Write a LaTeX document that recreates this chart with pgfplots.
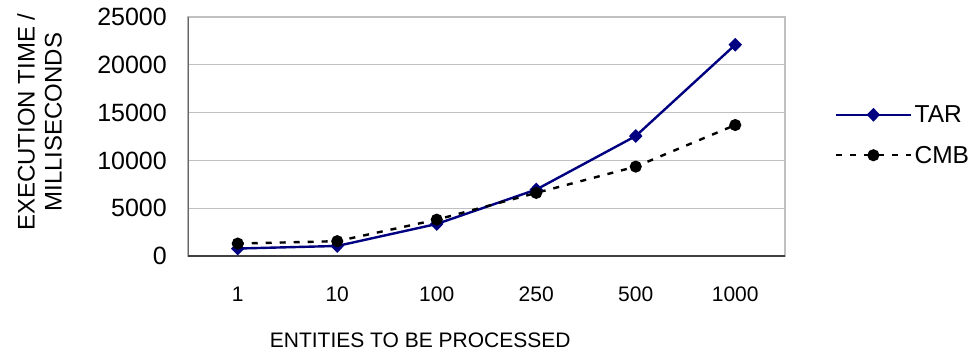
\documentclass[border=0pt]{standalone}
\usepackage{fontspec}
\setmainfont{Liberation Sans}
\usepackage{pgfplots}
\pgfplotsset{compat=1.18}
\definecolor{tarblue}{RGB}{0,0,128}
\definecolor{gridgray}{RGB}{192,192,192}
\begin{document}
\begin{tikzpicture}
\useasboundingbox (-188pt,-103pt) rectangle (791pt,256pt);
\begin{axis}[
  scale only axis,
  width=597pt, height=239pt,
  at={(0,0)}, anchor=south west,
  xmin=-0.5, xmax=5.5,
  ymin=0, ymax=25000,
  xtick={0,1,2,3,4,5},
  xticklabels={1,10,100,250,500,1000},
  ytick={0,5000,10000,15000,20000,25000},
  yticklabels={0,5000,10000,15000,20000,25000},
  scaled y ticks=false,
  major tick length=0pt,
  ymajorgrids,
  grid style={draw=gridgray, line width=1.3pt},
  axis line style={draw=gridgray, line width=1.3pt},
  yticklabel style={font=\fontsize{25}{29}\selectfont, inner sep=0pt, anchor=east, xshift=-21pt},
  xticklabel style={font=\fontsize{21}{25}\selectfont, inner sep=0pt, anchor=north, yshift=-31pt},
  xlabel={ENTITIES TO BE PROCESSED},
  xlabel style={font=\fontsize{21}{25}\selectfont, at={(axis description cs:0.389,0)}, anchor=north, inner sep=0pt, yshift=-77pt},
  ylabel={EXECUTION TIME /\\MILLISECONDS},
  ylabel style={font=\fontsize{24}{27}\selectfont, align=center, at={(axis description cs:0,0.56)}, anchor=south, inner sep=0pt, yshift=126pt},
  legend cell align=left,
  legend style={draw=none, fill=none, at={(axis description cs:1,0.506)}, anchor=west, xshift=50pt,
    font=\fontsize{24.5}{28}\selectfont, row sep=18pt, inner sep=0pt,
    /tikz/every even column/.append style={column sep=9pt}},
  legend image code/.code={
    \draw[mark repeat=2,mark phase=2,#1] plot coordinates {(0pt,0pt) (37pt,0pt) (75pt,0pt)};
  },
]
\addplot[tarblue, line width=2.4pt, mark=diamond*, mark size=5.2pt, mark options={solid, fill=tarblue, xscale=1.3}]
  coordinates {(0,780) (1,1050) (2,3350) (3,6950) (4,12550) (5,22100)};
\addlegendentry{TAR}
\addplot[black, line width=2.4pt, dash pattern=on 6pt off 8pt, mark=*, mark size=4.8pt, mark options={solid, fill=black}]
  coordinates {(0,1300) (1,1550) (2,3800) (3,6600) (4,9350) (5,13700)};
\addlegendentry{CMB}
\draw[draw=gray!80!black, line width=1.3pt] (rel axis cs:0,1) -- (rel axis cs:0,0);
\draw[draw=black!75, line width=1.5pt] (rel axis cs:0,0) -- (rel axis cs:1,0);
\end{axis}
\end{tikzpicture}
\end{document}
